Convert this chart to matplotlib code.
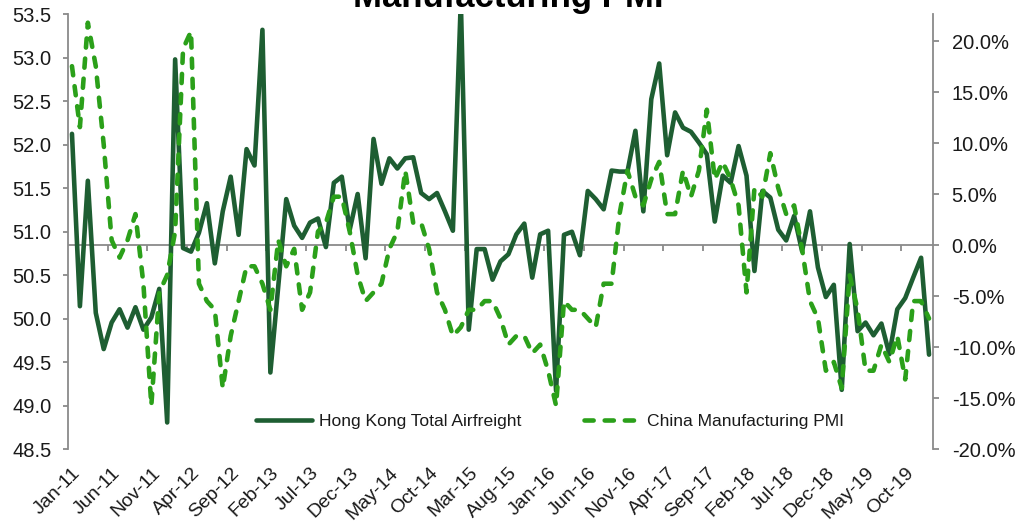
import numpy as np
import matplotlib
matplotlib.use("Agg")
import matplotlib.pyplot as plt
from matplotlib.lines import Line2D

plt.rcParams['font.family'] = ['Liberation Sans', 'DejaVu Sans']

# ---- data -------------------------------------------------------------
months = ['Jan', 'Feb', 'Mar', 'Apr', 'May', 'Jun', 'Jul', 'Aug', 'Sep', 'Oct', 'Nov', 'Dec']
dates = [f"{m}-{y:02d}" for y in range(11, 20) for m in months] + ['Jan-20']

# Hong Kong Total Airfreight, YoY % (right axis)
hk_airfreight = [
    10.9, -6.0, 6.3, -6.65, -10.2, -7.6, -6.3, -8.1, -6.1, -8.3, -7.1, -4.3,
    -17.4, 18.2, -0.3, -0.65, 1.2, 4.1, -1.8, 3.3, 6.7, 1.0, 9.4, 7.8,
    21.1, -12.5, -4.0, 4.5, 1.9, 0.7, 2.2, 2.6, -0.2, 6.1, 6.7, 1.5,
    5.0, -1.3, 10.4, 6.0, 8.5, 7.5, 8.5, 8.6, 5.1, 4.5, 5.1, 3.3,
    1.4, 24.0, -8.3, -0.4, -0.4, -3.4, -1.6, -0.9, 1.05, 2.1, -3.2, 1.05,
    1.4, -14.3, 1.0, 1.3, -1.0, 5.3, 4.5, 3.5, 7.3, 7.2, 7.2, 11.2,
    3.3, 14.3, 17.8, 8.8, 13.0, 11.5, 11.1, 10.05, 8.9, 2.3, 6.8, 6.1,
    9.7, 6.8, -2.55, 5.3, 4.65, 1.5, 0.45, 2.85, -0.6, 3.3, -2.2, -5.1,
    -3.9, -14.2, 0.1, -8.45, -7.6, -8.85, -7.7, -10.7, -6.3, -5.2, -3.2, -1.25,
    -10.75,
]

# China Manufacturing PMI (left axis)
china_pmi = [
    52.9, 52.2, 53.4, 52.9, 52.0, 50.9, 50.7, 50.9, 51.2, 50.4, 49.0, 50.3,
    50.5, 51.0, 53.1, 53.3, 50.4, 50.2, 50.1, 49.2, 49.8, 50.2, 50.6, 50.6,
    50.4, 50.1, 50.9, 50.6, 50.8, 50.1, 50.3, 51.0, 51.1, 51.4, 51.4, 51.0,
    50.5, 50.2, 50.3, 50.4, 50.8, 51.0, 51.7, 51.1, 51.1, 50.8, 50.3, 50.1,
    49.8, 49.9, 50.1, 50.1, 50.2, 50.2, 50.0, 49.7, 49.8, 49.8, 49.6, 49.7,
    49.4, 49.0, 50.2, 50.1, 50.1, 50.0, 49.9, 50.4, 50.4, 51.2, 51.7, 51.4,
    51.3, 51.6, 51.8, 51.2, 51.2, 51.7, 51.4, 51.7, 52.4, 51.6, 51.8, 51.6,
    51.3, 50.3, 51.5, 51.4, 51.9, 51.5, 51.2, 51.3, 50.8, 50.2, 50.0, 49.4,
    49.5, 49.2, 50.5, 50.1, 49.4, 49.4, 49.7, 49.5, 49.8, 49.3, 50.2, 50.2,
    50.0,
]

left_ticks = [48.5, 49.0, 49.5, 50.0, 50.5, 51.0, 51.5, 52.0, 52.5, 53.0, 53.5]
right_ticks = [-20, -15, -10, -5, 0, 5, 10, 15, 20]
label_step = 5

# ---- style ------------------------------------------------------------
dark_green = '#1e5e32'
light_green = '#2ba01a'
gray = '#8a8a8a'
text_col = '#1a1a1a'

fig = plt.figure(figsize=(10.24, 5.21), dpi=100)
ax = fig.add_axes([68 / 1024, 1 - 449 / 521, (933 - 68) / 1024, (449 - 14) / 521])
ax2 = ax.twinx()

x = np.arange(len(dates))

# right axis (airfreight)
ax2.set_ylim(-20, 22.65)
ax2.axhline(0, color=gray, lw=1.3, zorder=1)
ax2.vlines(np.arange(label_step - 0.5, len(dates), label_step), -0.55, 0,
           color=gray, lw=1.3, zorder=1)
l1, = ax2.plot(x, hk_airfreight, color=dark_green, lw=3.3,
               solid_capstyle='round', solid_joinstyle='round', zorder=2)

# left axis (PMI) drawn on top
ax.set_zorder(ax2.get_zorder() + 1)
ax.patch.set_visible(False)
l2, = ax.plot(x, china_pmi, color=light_green, lw=3.3, linestyle=(0, (2.0, 2.4)),
              dash_capstyle='round', dash_joinstyle='round', zorder=3)

ax.set_xlim(-0.5, len(dates) - 0.5)
ax.set_ylim(48.5, 53.5)

for a in (ax, ax2):
    for s in a.spines.values():
        s.set_visible(False)
ax.spines['left'].set_visible(True)
ax.spines['left'].set_color(gray)
ax.spines['left'].set_linewidth(1.3)
ax2.spines['right'].set_visible(True)
ax2.spines['right'].set_color(gray)
ax2.spines['right'].set_linewidth(1.3)

ax.set_yticks(left_ticks)
ax.set_yticklabels([f"{v:.1f}" for v in left_ticks])
ax.tick_params(axis='y', direction='out', length=3.8, width=1.3, color=gray,
               labelsize=14.5, labelcolor=text_col, pad=8)

ax2.set_yticks(right_ticks)
ax2.set_yticklabels([f"{v:.1f}%" for v in right_ticks])
ax2.tick_params(axis='y', direction='out', length=4.5, width=1.3, color=gray,
                labelsize=14.5, labelcolor=text_col, pad=9)

xt = list(range(0, len(dates), label_step))
ax.set_xticks(xt)
ax.set_xticklabels([dates[i] for i in xt], rotation=45, ha='right', va='top',
                   rotation_mode='anchor')
ax.tick_params(axis='x', length=0, labelsize=14, labelcolor=text_col, pad=11)

# legend
fig.legend([l1, l2], ['Hong Kong Total Airfreight', 'China Manufacturing PMI'],
           loc='center', bbox_to_anchor=(550 / 1024, 1 - 421.7 / 521),
           ncol=2, frameon=False, fontsize=12.6, handlelength=3.2,
           handletextpad=0.4, columnspacing=3.6, labelcolor=text_col)

# title (top partly cut off, as in the reference)
fig.text(508 / 1024, 1 - 6.5 / 521, 'Manufacturing PMI', fontsize=25,
         fontweight='bold', ha='center', va='baseline', color='black')

fig.savefig('out.png', dpi=100)
